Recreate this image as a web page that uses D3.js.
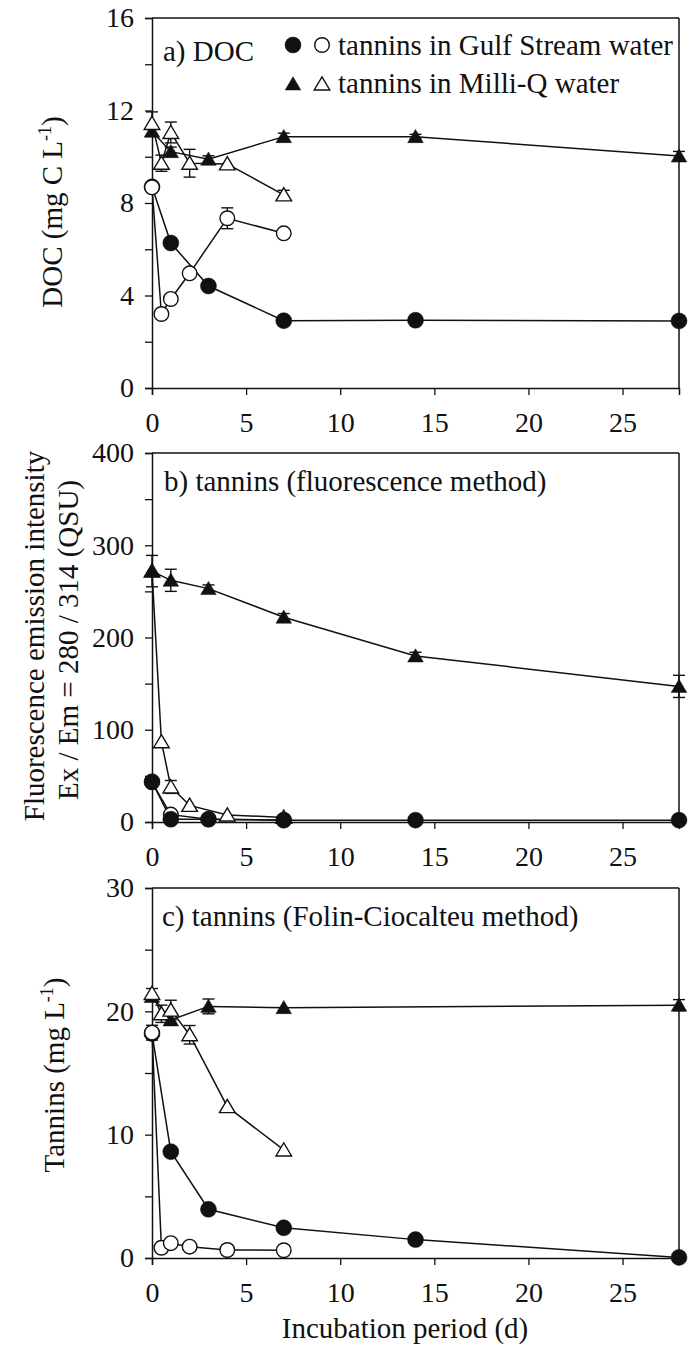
<!DOCTYPE html>
<html>
<head>
<meta charset="utf-8">
<script src="https://cdn.jsdelivr.net/npm/d3@7"></script>
<style>
  html, body { margin: 0; padding: 0; background: #fff; }
  svg { display: block; }
  text { font-family: "Liberation Serif", "Times New Roman", serif; fill: #111; }
</style>
</head>
<body>
<svg id="chart" width="696" height="1346"></svg>
<script>
// ---------- DATA ----------
const xTicks = [0, 5, 10, 15, 20, 25];

// Panel a: DOC (mg C L-1)
const aTicks = [0, 2, 4, 6, 8, 10, 12, 14, 16];
const aLabels = [0, 4, 8, 12, 16];
const aGsFilledDays = [0, 1, 3, 7, 14, 28];
const aGsFilledVals = [8.7, 6.27, 4.41, 2.91, 2.93, 2.90];
const aGsFilledErr  = [0, 0, 0, 0, 0, 0];
const aGsOpenDays = [0, 0.5, 1, 2, 4, 7];
const aGsOpenVals = [8.68, 3.2, 3.85, 4.96, 7.34, 6.69];
const aGsOpenErr  = [0, 0, 0, 0, 0.45, 0];
const aMqFilledDays = [0, 1, 3, 7, 14, 28];
const aMqFilledVals = [11.1, 10.22, 9.89, 10.87, 10.87, 10.03];
const aMqFilledErr  = [0, 0.2, 0.15, 0.15, 0.1, 0.2];
const aMqOpenDays = [0, 0.5, 1, 2, 4, 7];
const aMqOpenVals = [11.44, 9.72, 11.05, 9.72, 9.69, 8.35];
const aMqOpenErr  = [0.5, 0.35, 0.45, 0.6, 0, 0.2];

// Panel b: fluorescence (QSU)
const bTicks = [0, 50, 100, 150, 200, 250, 300, 350, 400];
const bLabels = [0, 100, 200, 300, 400];
const bGsFilledDays = [0, 1, 3, 7, 14, 28];
const bGsFilledVals = [43.7, 3, 3, 2, 2, 2];
const bGsFilledErr  = [0, 0, 0, 0, 0, 0];
const bGsOpenDays = [0, 1, 3, 7];
const bGsOpenVals = [43, 8, 3, 2];
const bGsOpenErr  = [0, 0, 0, 0];
const bMqFilledDays = [0, 1, 3, 7, 14, 28];
const bMqFilledVals = [272, 262, 253, 222, 180, 147];
const bMqFilledErr  = [17, 12, 4, 4, 4, 12];
const bMqOpenDays = [0, 0.5, 1, 2, 4, 7];
const bMqOpenVals = [272, 87, 38, 18, 7.6, 5];
const bMqOpenErr  = [0, 0, 7, 0, 0, 0];

// Panel c: tannins, Folin-Ciocalteu (mg L-1)
const cTicks = [0, 5, 10, 15, 20, 25, 30];
const cLabels = [0, 10, 20, 30];
const cGsFilledDays = [0, 1, 3, 7, 14, 28];
const cGsFilledVals = [18.2, 8.62, 3.95, 2.45, 1.49, 0.05];
const cGsFilledErr  = [0, 0, 0, 0, 0, 0];
const cGsOpenDays = [0, 0.5, 1, 2, 4, 7];
const cGsOpenVals = [18.27, 0.83, 1.2, 0.92, 0.65, 0.63];
const cGsOpenErr  = [0.6, 0, 0, 0, 0.4, 0];
const cMqFilledDays = [0, 1, 3, 7, 28];
const cMqFilledVals = [21.2, 19.3, 20.4, 20.3, 20.5];
const cMqFilledErr  = [0, 0.4, 0.6, 0, 0.45];
const cMqOpenDays = [0, 0.5, 1, 2, 4, 7];
const cMqOpenVals = [21.45, 19.8, 20.1, 18.1, 12.27, 8.76];
const cMqOpenErr  = [0.4, 0.7, 0.8, 0.75, 0, 0];

const legendLabels = ["tannins in Gulf Stream water", "tannins in Milli-Q water"];
const panelTitles = ["a) DOC", "b) tannins (fluorescence method)", "c) tannins (Folin-Ciocalteu method)"];
const xTitle = "Incubation period (d)";

// ---------- DRAWING ----------
const svg = d3.select("#chart");
const FS = 29;      // titles, legend, axis titles
const TFS = 28;     // tick labels
const x = d3.scaleLinear().domain([0, 28]).range([152, 679]);

function zip(days, vals, errs) {
  return days.map((d, i) => ({ d: d, v: vals[i], e: errs[i] }));
}

function drawMarker(g, type, filled, cx, cy) {
  if (type === "circle") {
    g.append("circle").attr("cx", cx).attr("cy", cy)
      .attr("r", filled ? 8 : 7.3)
      .attr("fill", filled ? "#111" : "#fff")
      .attr("stroke", "#111").attr("stroke-width", filled ? 0.5 : 1.4);
  } else {
    const p = d3.path();
    p.moveTo(cx, cy - 7.2); p.lineTo(cx + 7.8, cy + 6); p.lineTo(cx - 7.8, cy + 6); p.closePath();
    g.append("path").attr("d", p.toString())
      .attr("fill", filled ? "#111" : "#fff")
      .attr("stroke", "#111").attr("stroke-width", filled ? 0.5 : 1.4)
      .attr("stroke-linejoin", "miter");
  }
}

function panel(cfg) {
  const y = d3.scaleLinear().domain(cfg.domain).range(cfg.range);
  const g = svg.append("g");

  // frame top/right
  g.append("line").attr("x1", x(0)).attr("x2", x(28)).attr("y1", y(cfg.domain[1])).attr("y2", y(cfg.domain[1]))
    .attr("stroke", "#111").attr("stroke-width", 1.5);
  g.append("line").attr("x1", x(28)).attr("x2", x(28)).attr("y1", y(cfg.domain[1])).attr("y2", y(0))
    .attr("stroke", "#111").attr("stroke-width", 1.5);

  // y axis
  const yAxis = d3.axisLeft(y).tickValues(cfg.ticks).tickSize(7).tickPadding(11)
    .tickFormat(v => cfg.labels.includes(v) ? String(v) : "");
  const ya = g.append("g").attr("transform", `translate(${x(0)},0)`).call(yAxis);
  // x axis
  const xAxis = d3.axisBottom(x).tickValues(xTicks).tickSize(7).tickPadding(17).tickFormat(d3.format("d"));
  const xa = g.append("g").attr("transform", `translate(0,${y(0)})`).call(xAxis);
  [ya, xa].forEach(a => {
    a.select(".domain").attr("stroke", "#111").attr("stroke-width", 1.5);
    a.selectAll(".tick line").attr("stroke", "#111").attr("stroke-width", 1.3);
    a.selectAll(".tick text").attr("font-size", TFS).style("font-size", TFS + "px").attr("fill", "#111");
  });

  // title
  g.append("text").attr("x", cfg.titleX).attr("y", cfg.titleY).attr("font-size", FS).text(cfg.title);

  const line = d3.line().x(p => x(p.d)).y(p => y(p.v));
  const series = cfg.series;
  // lines
  series.forEach(s => {
    g.append("path").attr("d", line(s.data)).attr("fill", "none")
      .attr("stroke", "#111").attr("stroke-width", 1.5);
  });
  // error bars + markers in draw order
  series.forEach(s => {
    s.data.forEach(p => {
      if (p.e > 0) {
        const cx = x(p.d), y1 = y(p.v + p.e), y2 = y(p.v - p.e);
        g.append("line").attr("x1", cx).attr("x2", cx).attr("y1", y1).attr("y2", y2).attr("stroke", "#111").attr("stroke-width", 1.4);
        g.append("line").attr("x1", cx - 6).attr("x2", cx + 6).attr("y1", y1).attr("y2", y1).attr("stroke", "#111").attr("stroke-width", 1.4);
        g.append("line").attr("x1", cx - 6).attr("x2", cx + 6).attr("y1", y2).attr("y2", y2).attr("stroke", "#111").attr("stroke-width", 1.4);
      }
    });
    s.data.forEach(p => drawMarker(g, s.type, s.filled, x(p.d), y(p.v)));
  });
  return y;
}

// Panel a
panel({
  domain: [0, 16], range: [388, 18], ticks: aTicks, labels: aLabels,
  title: panelTitles[0], titleX: 163, titleY: 61,
  series: [
    { type: "circle", filled: true, data: zip(aGsFilledDays, aGsFilledVals, aGsFilledErr) },
    { type: "tri", filled: true, data: zip(aMqFilledDays, aMqFilledVals, aMqFilledErr) },
    { type: "tri", filled: false, data: zip(aMqOpenDays, aMqOpenVals, aMqOpenErr) },
    { type: "circle", filled: false, data: zip(aGsOpenDays, aGsOpenVals, aGsOpenErr) }
  ]
});

// Panel b
panel({
  domain: [0, 400], range: [822, 453], ticks: bTicks, labels: bLabels,
  title: panelTitles[1], titleX: 164, titleY: 491,
  series: [
    { type: "circle", filled: false, data: zip(bGsOpenDays, bGsOpenVals, bGsOpenErr) },
    { type: "tri", filled: false, data: zip(bMqOpenDays, bMqOpenVals, bMqOpenErr) },
    { type: "tri", filled: true, data: zip(bMqFilledDays, bMqFilledVals, bMqFilledErr) },
    { type: "circle", filled: true, data: zip(bGsFilledDays, bGsFilledVals, bGsFilledErr) }
  ]
});

// Panel c
panel({
  domain: [0, 30], range: [1258, 888], ticks: cTicks, labels: cLabels,
  title: panelTitles[2], titleX: 162, titleY: 926,
  series: [
    { type: "circle", filled: true, data: zip(cGsFilledDays, cGsFilledVals, cGsFilledErr) },
    { type: "tri", filled: true, data: zip(cMqFilledDays, cMqFilledVals, cMqFilledErr) },
    { type: "tri", filled: false, data: zip(cMqOpenDays, cMqOpenVals, cMqOpenErr) },
    { type: "circle", filled: false, data: zip(cGsOpenDays, cGsOpenVals, cGsOpenErr) }
  ]
});

// Legend
const lg = svg.append("g");
drawMarker(lg, "circle", true, 293, 45);
drawMarker(lg, "circle", false, 322, 45);
lg.append("text").attr("x", 338).attr("y", 55).attr("font-size", FS).text(legendLabels[0]);
drawMarker(lg, "tri", true, 293, 84);
drawMarker(lg, "tri", false, 322, 84);
lg.append("text").attr("x", 338).attr("y", 93).attr("font-size", FS).text(legendLabels[1]);

// Y axis titles
function yTitle(xpos, ycen, parts) {
  const t = svg.append("text").attr("transform", `translate(${xpos},${ycen}) rotate(-90)`)
    .attr("text-anchor", "middle").attr("font-size", FS);
  parts.forEach(p => {
    const ts = t.append("tspan").text(p.t);
    if (p.sup) ts.attr("font-size", FS * 0.62).attr("dy", -11);
    if (p.after) ts.attr("dy", 11);
  });
}
yTitle(62, 212, [{ t: "DOC (mg C L" }, { t: "-1", sup: true }, { t: ")", after: true }]);
yTitle(44, 636, [{ t: "Fluorescence emission intensity" }]);
yTitle(78, 640, [{ t: "Ex / Em = 280 / 314 (QSU)" }]);
yTitle(64, 1075, [{ t: "Tannins (mg L" }, { t: "-1", sup: true }, { t: ")", after: true }]);

// X axis title
svg.append("text").attr("x", 405).attr("y", 1338).attr("text-anchor", "middle")
  .attr("font-size", FS).text(xTitle);
</script>
</body>
</html>
